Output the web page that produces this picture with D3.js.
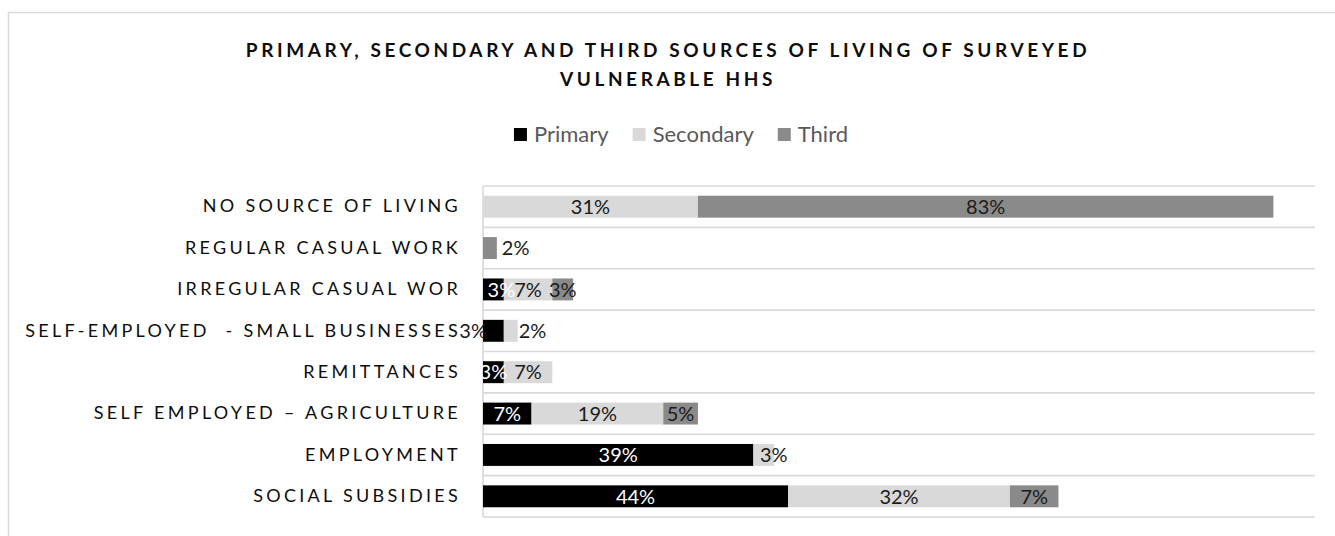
<!DOCTYPE html>
<html>
<head>
<meta charset="utf-8">
<script src="https://cdn.jsdelivr.net/npm/d3@7"></script>
<style>
  html, body { margin: 0; padding: 0; background: #fff; }
  svg { display: block; }
  text { font-family: Lato, "Open Sans", sans-serif; }
</style>
</head>
<body>
<svg id="chart" width="1335" height="536"></svg>
<script>
// Sources of living, share of surveyed households (%)
const categories = [
  "NO SOURCE OF LIVING",
  "REGULAR CASUAL WORK",
  "IRREGULAR CASUAL WOR",
  "SELF-EMPLOYED  - SMALL BUSINESSES",
  "REMITTANCES",
  "SELF EMPLOYED \u2013 AGRICULTURE",
  "EMPLOYMENT",
  "SOCIAL SUBSIDIES"
];
const seriesNames = ["Primary", "Secondary", "Third"];
const primary   = [0, 0, 3, 3, 3, 7, 39, 44];
const secondary = [31, 0, 7, 2, 7, 19, 3, 32];
const third     = [83, 2, 3, 0, 0, 5, 0, 7];
const axisMax = 120;

const titleLines = [
  "PRIMARY, SECONDARY AND THIRD SOURCES OF LIVING OF SURVEYED",
  "VULNERABLE HHS"
];

// Label placement tweaks for crowded segments
const labelPlacement = {
  "IRREGULAR CASUAL WOR|Primary": { mode: "center", dx: 8 },
  "REGULAR CASUAL WORK|Third": { mode: "right", dx: 5 },
  "SELF-EMPLOYED  - SMALL BUSINESSES|Primary": { mode: "left", dx: 4 },
  "SELF-EMPLOYED  - SMALL BUSINESSES|Secondary": { mode: "right", dx: 1 },
  "EMPLOYMENT|Secondary": { mode: "center", dx: 10 }
};

const colors = { Primary: "#000000", Secondary: "#d9d9d9", Third: "#8a8a8a" };
const labelColors = { Primary: "#ffffff", Secondary: "#1a1a1a", Third: "#1a1a1a" };

const svg = d3.select("#chart");
const plot = { left: 483, right: 1315, top: 186, bottom: 517 };

// Chart frame
svg.append("rect")
  .attr("x", 8.5).attr("y", 12.5)
  .attr("width", 1340).attr("height", 540)
  .attr("fill", "none").attr("stroke", "#d9d9d9").attr("stroke-width", 1.5);

// Title
svg.append("g").selectAll("text").data(titleLines).join("text")
  .attr("x", 668)
  .attr("y", (d, i) => 57 + i * 29)
  .attr("text-anchor", "middle")
  .attr("font-size", 19)
  .attr("font-weight", 700)
  .attr("letter-spacing", 3.6)
  .attr("fill", "#0d0d0d")
  .text(d => d);

// Scales
const x = d3.scaleLinear().domain([0, axisMax]).range([plot.left, plot.right]);
const y = d3.scaleBand().domain(categories).range([plot.top, plot.bottom])
  .paddingInner(0.47).paddingOuter(0.235);

const rows = categories.map((c, i) => ({
  category: c, Primary: primary[i], Secondary: secondary[i], Third: third[i]
}));
const stacked = d3.stack().keys(seriesNames)(rows);

// Category gridlines at band boundaries
const step = y.step();
const gridYs = d3.range(categories.length + 1).map(i => plot.top + i * step);
svg.append("g").selectAll("line").data(gridYs).join("line")
  .attr("x1", plot.left).attr("x2", plot.right)
  .attr("y1", d => d).attr("y2", d => d)
  .attr("stroke", "#d9d9d9").attr("stroke-width", 1.6);

// Category axis line
svg.append("line")
  .attr("x1", plot.left).attr("x2", plot.left)
  .attr("y1", plot.top).attr("y2", plot.bottom)
  .attr("stroke", "#d9d9d9").attr("stroke-width", 1.6);

// Category labels
const yAxis = d3.axisLeft(y).tickSize(0).tickPadding(22);
const yg = svg.append("g").attr("transform", `translate(${plot.left},0)`).call(yAxis);
yg.select(".domain").remove();
yg.selectAll("text")
  .attr("font-family", "Lato, sans-serif")
  .attr("font-size", 18)
  .attr("letter-spacing", 3.3)
  .attr("fill", "#0d0d0d")
  .style("white-space", "pre");

// Bars
const barG = svg.append("g");
stacked.forEach(layer => {
  barG.append("g").attr("fill", colors[layer.key])
    .selectAll("rect").data(layer).join("rect")
    .attr("x", d => x(d[0]))
    .attr("y", d => y(d.data.category))
    .attr("width", d => x(d[1]) - x(d[0]))
    .attr("height", y.bandwidth());
});

// Data labels
const labelG = svg.append("g");
stacked.forEach(layer => {
  const key = layer.key;
  layer.forEach(d => {
    const v = d.data[key];
    if (!v) return;
    const p = labelPlacement[d.data.category + "|" + key] || { mode: "center", dx: 0 };
    let lx, anchor, fill = labelColors[key];
    if (p.mode === "left") { lx = x(d[0]) + p.dx; anchor = "end"; fill = "#1a1a1a"; }
    else if (p.mode === "right") { lx = x(d[1]) + p.dx; anchor = "start"; fill = "#1a1a1a"; }
    else { lx = (x(d[0]) + x(d[1])) / 2 + p.dx; anchor = "middle"; }
    labelG.append("text")
      .attr("x", lx)
      .attr("y", y(d.data.category) + y.bandwidth() / 2)
      .attr("dy", "0.36em")
      .attr("text-anchor", anchor)
      .attr("font-size", 20)
      .attr("fill", fill)
      .text(v + "%");
  });
});

// Legend
const legend = svg.append("g");
const items = [];
seriesNames.forEach(name => {
  const g = legend.append("g");
  g.append("rect").attr("x", 0).attr("y", -14).attr("width", 13).attr("height", 13)
    .attr("fill", colors[name]);
  const t = g.append("text").attr("x", 20).attr("y", 0)
    .attr("font-size", 22).attr("fill", "#595959").text(name);
  const w = 20 + t.node().getComputedTextLength();
  items.push({ g, w });
});
const gap = 24;
const totalW = d3.sum(items, d => d.w) + gap * (items.length - 1);
let cur = 681 - totalW / 2;
items.forEach(it => { it.g.attr("transform", `translate(${cur},142)`); cur += it.w + gap; });
</script>
</body>
</html>
